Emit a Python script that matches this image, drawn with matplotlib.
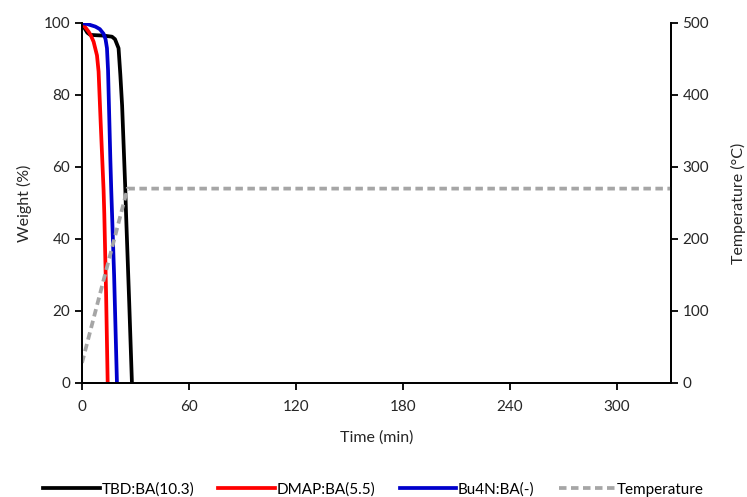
import matplotlib
matplotlib.use("Agg")
import matplotlib.pyplot as plt

plt.rcParams["font.family"] = ["Lato", "DejaVu Sans"]

# TGA weight-loss curves (time in min, weight in %)
tbd_time = [0, 1.5, 3, 4.6, 8, 12, 16.8, 18.5, 20.5, 21.5, 22.5, 24.3, 24.7, 26.5, 28]
tbd_weight = [100, 98.5, 97.3, 96.7, 96.6, 96.5, 96.2, 95.5, 93, 85.6, 77, 53.6, 47, 22, 0]

dmap_time = [0, 1, 2, 3.7, 5, 6.5, 8.4, 9.3, 10.5, 12.1, 12.5, 13.5, 14.4]
dmap_weight = [100, 99.3, 98.7, 97.6, 96.5, 94.8, 91, 86.5, 72, 53.6, 47, 25, 0]

bu4n_time = [0, 3, 7.5, 10, 12.1, 13.2, 14, 14.6, 15.9, 16.4, 18, 19.6]
bu4n_weight = [100, 99.7, 99, 98.3, 97, 95.5, 93, 86.9, 62, 53.6, 30, 0]

# furnace temperature program
temp_time = [0, 25.5, 330]
temp_value = [28, 270, 270]

x_ticks = [0, 60, 120, 180, 240, 300]

fig = plt.figure(figsize=(7.47, 4.97), dpi=100)
ax = fig.add_axes([82 / 747, 1 - 383 / 497, (670.5 - 82) / 747, (383 - 23) / 497])
ax2 = ax.twinx()

l1, = ax.plot(tbd_time, tbd_weight, color="black", lw=2.7, label="TBD:BA(10.3)")
l2, = ax.plot(dmap_time, dmap_weight, color="#ff0000", lw=2.7, label="DMAP:BA(5.5)")
l3, = ax.plot(bu4n_time, bu4n_weight, color="#0000cc", lw=2.7, label="Bu4N:BA(-)")
l4, = ax2.plot(temp_time, temp_value, color="#a6a6a6", lw=2.7, ls=(0, (2.0, 1.2)),
               label="Temperature")

ax.set_xlim(0, 330)
ax.set_ylim(0, 100)
ax2.set_ylim(0, 500)
ax.set_xticks(x_ticks)
ax.set_yticks(range(0, 101, 20))
ax2.set_yticks(range(0, 501, 100))

for a in (ax, ax2):
    for s in a.spines.values():
        s.set_linewidth(1.3)
    a.tick_params(width=1.3, length=5, labelsize=11, colors="black",
                  labelcolor="#262626")
ax.spines["top"].set_visible(False)
ax2.spines["top"].set_visible(False)
ax.tick_params(axis="x", pad=7)

ax.set_xlabel("Time (min)", fontsize=11.5, color="#262626", labelpad=12)
ax.set_ylabel("Weight (%)", fontsize=11.5, color="#262626", labelpad=8)
ax2.set_ylabel("Temperature (°C)", fontsize=11.5, color="#262626", labelpad=16)

fig.legend(handles=[l1, l2, l3, l4], loc="center", bbox_to_anchor=(0.5, 0.015),
           ncol=4, frameon=False, fontsize=11, handlelength=3.7,
           handletextpad=0.1, columnspacing=1.6)

fig.savefig("out.png", dpi=100)
